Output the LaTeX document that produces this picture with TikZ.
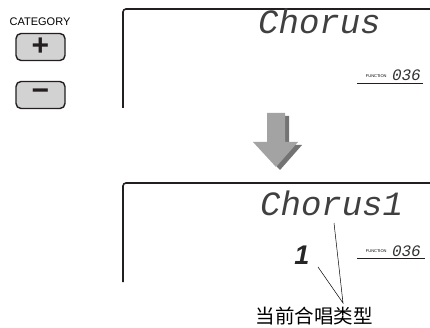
\documentclass[tikz,border=0pt]{standalone}
\usepackage{fontspec}
\setmainfont{Liberation Sans}
\newfontfamily\lcdfont{Liberation Mono}
\newfontfamily\cjkfont{Noto Sans CJK SC}
\usepackage{tikz}
\usetikzlibrary{positioning,calc}
\definecolor{panelink}{HTML}{231F20}
\definecolor{keyfill}{HTML}{D2D2D2}
\definecolor{arrowgray}{HTML}{A3A3A3}
\definecolor{arrowshade}{HTML}{737373}
\tikzset{
  panelline/.style={draw=panelink,line width=1.6pt,rounded corners=3pt},
  keybox/.style={draw=panelink,fill=keyfill,line width=1.4pt,rounded corners=5pt,
    minimum width=49pt,minimum height=27pt,inner sep=0pt,
    font=\bfseries\fontsize{30}{30}\selectfont,text=panelink},
  lcdtext/.style={font=\lcdfont\itshape\fontsize{34}{34}\selectfont,text=black!75,inner sep=0pt},
  lcdnum/.style={font=\lcdfont\itshape\fontsize{16}{16}\selectfont,text=black!80,inner sep=0pt},
  tagtext/.style={font=\fontsize{4}{4}\selectfont,inner sep=0pt},
  underline/.style={draw=panelink,line width=0.9pt},
  leader/.style={draw=black,line width=0.5pt},
  figurelabel/.style={font=\cjkfont\fontsize{19.5}{19.5}\selectfont,inner sep=0pt}
}

\begin{document}
\begin{tikzpicture}[x=1pt,y=-1pt,node distance=5pt]
  \useasboundingbox (0,0) rectangle (430,328);
  \node[font=\fontsize{11}{11}\selectfont,inner sep=0pt] (catname) at (40,22) {CATEGORY};
  \node[keybox] (plus) at (40.5,47) {+};
  \node[keybox] (minus) at (40.5,95) {−};
  \draw[panelline] (123,108) |- (432,9);
  \node[lcdtext,anchor=base west] (modename) at (258,34) {Chorus};
  \node[lcdnum,anchor=base east] (fnum1) at (421,81) {036};
  \node[tagtext,left=of fnum1] (ftag1) {FUNCTION};
  \draw[underline] (357,83) -- (423,83);
  \fill[arrowshade,shift={(4,3)}] (267,113) -- (285,113) -- (285,142) -- (298,142)
    -- (276,167) -- (253,142) -- (267,142) -- cycle;
  \fill[arrowgray] (267,113) -- (285,113) -- (285,142) -- (298,142)
    -- (276,167) -- (253,142) -- (267,142) -- cycle;
  \draw[panelline] (123,282) |- (432,183);
  \node[lcdtext,anchor=base west] (typename) at (260,216) {Chorus1};
  \node[font=\bfseries\itshape\fontsize{27}{27}\selectfont,text=black!85,inner sep=0pt]
    (typenum) at (302,255) {1};
  \node[lcdnum,anchor=base east] (fnum2) at (421,256) {036};
  \node[tagtext,left=of fnum2] (ftag2) {FUNCTION};
  \draw[underline] (357,258) -- (425,258);
  \node[figurelabel] (typelabel) at (314,316) {当前合唱类型};
  \coordinate (apex) at (343,303);
  \coordinate (nameend) at (334,223);
  \coordinate (numend) at (318,267);
  \draw[leader] (nameend) -- (apex) -- (numend);
\end{tikzpicture}
\end{document}
